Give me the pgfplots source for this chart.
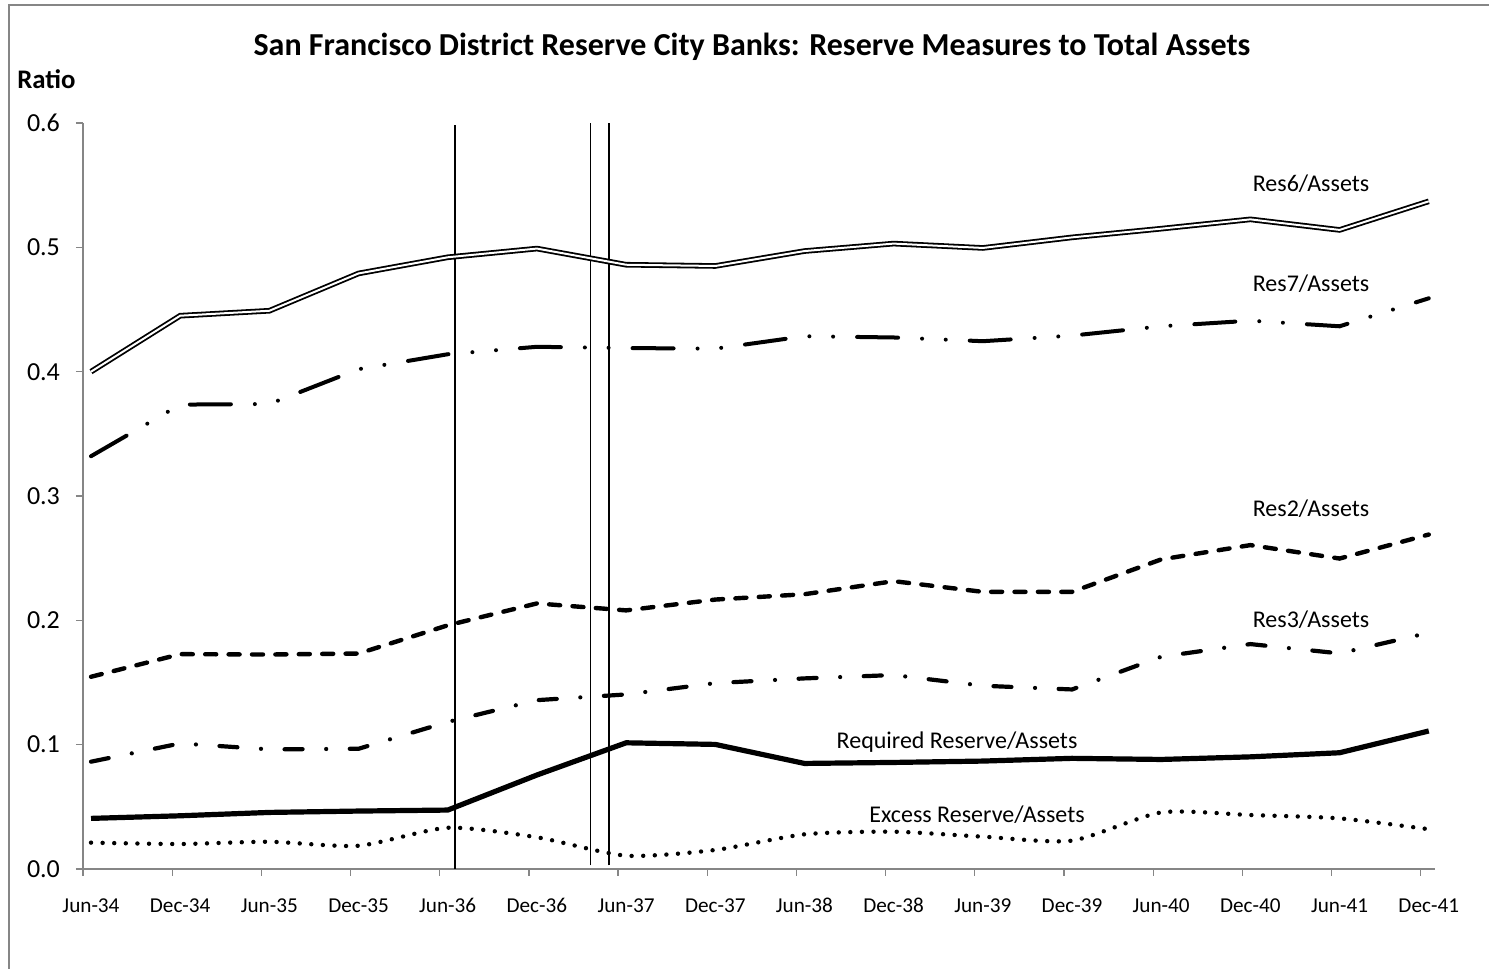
\documentclass[border=0pt]{standalone}
\usepackage{fontspec}
\setmainfont{Carlito}
\usepackage{pgfplots}
\usepackage{pgfplotstable}
\pgfplotsset{compat=1.18}
\definecolor{axisgray}{RGB}{134,134,134}

% columns: x position, Res6, Res7, Res2, Res3, Required, Excess (all / total assets)
\pgfplotstableread{
x     res6   res7   res2   res3   req    exc
0.09  0.400  0.332  0.1546 0.0863 0.0407 0.0212
1.09  0.445  0.3735 0.1728 0.1010 0.0428 0.0201
2.09  0.449  0.374  0.1725 0.0962 0.0455 0.0219
3.09  0.479  0.402  0.1733 0.0967 0.0466 0.0187
4.09  0.492  0.414  0.1960 0.1183 0.0474 0.0332
5.09  0.499  0.420  0.2136 0.1358 0.0756 0.0255
6.09  0.486  0.419  0.2080 0.1404 0.1015 0.0107
7.09  0.485  0.4185 0.2167 0.1495 0.1002 0.0153
8.09  0.497  0.4285 0.2210 0.1533 0.0849 0.0279
9.09  0.503  0.4275 0.2315 0.1560 0.0857 0.0300
10.09 0.4995 0.4245 0.2229 0.1474 0.0868 0.0260
11.09 0.508  0.429  0.2229 0.1444 0.0890 0.0228
12.09 0.515  0.4365 0.2490 0.1707 0.0881 0.0455
13.09 0.5225 0.441  0.2605 0.1809 0.0902 0.0434
14.09 0.514  0.4365 0.2497 0.1734 0.0935 0.0407
15.09 0.537  0.459  0.2690 0.1900 0.1110 0.0320
}\ratios

\begin{document}
\begin{tikzpicture}
\begin{axis}[
    at={(0,0)}, anchor=south west,
    scale only axis,
    width=676pt, height=373pt,
    xmin=0, xmax=15.16,
    ymin=0, ymax=0.6,
    axis x line*=bottom,
    axis y line*=left,
    axis line style={draw=axisgray, line width=0.6pt},
    tick style={draw=axisgray, line width=0.6pt},
    tick align=outside,
    major tick length=3.5pt,
    xtick={0,1,...,15},
    xticklabels={Jun-34,Dec-34,Jun-35,Dec-35,Jun-36,Dec-36,Jun-37,Dec-37,Jun-38,Dec-38,Jun-39,Dec-39,Jun-40,Dec-40,Jun-41,Dec-41},
    xticklabel style={anchor=base, xshift=4pt, yshift=-18.5pt, font=\fontsize{10.6}{12}\selectfont},
    ytick={0,0.1,0.2,0.3,0.4,0.5,0.6},
    yticklabel style={font=\fontsize{13}{15}\selectfont, xshift=-4.5pt,
        /pgf/number format/fixed, /pgf/number format/fixed zerofill,
        /pgf/number format/precision=1},
    /pgf/number format/assume math mode=true,
]
% reserve requirement change dates
\addplot[black, line width=0.75pt] coordinates {(4.17,0) (4.17,0.598)};
\addplot[black, line width=0.75pt] coordinates {(5.69,0.003) (5.69,0.6)};
\addplot[black, line width=0.75pt] coordinates {(5.897,0.003) (5.897,0.6)};

\addplot[draw=black, double=white, line width=0.9pt, double distance=1pt] table[x=x, y=res6] {\ratios};
\addplot[black, line width=2pt, line cap=round,
    dash pattern=on 20.5pt off 12pt on 0pt off 11.85pt on 0pt off 12pt] table[x=x, y=res7] {\ratios};
\addplot[black, line width=2.2pt, line cap=round,
    dash pattern=on 5.5pt off 6.2pt] table[x=x, y=res2] {\ratios};
\addplot[black, line width=2.1pt, line cap=round,
    dash pattern=on 9pt off 11.8pt on 0pt off 11.8pt] table[x=x, y=res3] {\ratios};
\addplot[black, line width=2.6pt] table[x=x, y=req] {\ratios};
\addplot[black, line width=2.2pt, line cap=round, smooth, tension=0.4,
    dash pattern=on 0pt off 5.8pt] table[x=x, y=exc] {\ratios};
\end{axis}

\begin{scope}[every node/.style={inner sep=0pt}]
\node[anchor=base, font=\fontsize{16}{18}\selectfont\bfseries] at (334.5pt,406.5pt)
    {San Francisco District Reserve City Banks: Reserve Measures to Total Assets};
\node[anchor=base west, font=\fontsize{13.4}{15}\selectfont\bfseries] at (-33pt,390pt) {Ratio};
\node[anchor=base, font=\fontsize{12}{14}\selectfont] at (614pt,338.5pt) {Res6/Assets};
\node[anchor=base, font=\fontsize{12}{14}\selectfont] at (614pt,288.7pt) {Res7/Assets};
\node[anchor=base, font=\fontsize{12}{14}\selectfont] at (614pt,176.2pt) {Res2/Assets};
\node[anchor=base, font=\fontsize{12}{14}\selectfont] at (614pt,120.8pt) {Res3/Assets};
\node[anchor=base, font=\fontsize{12}{14}\selectfont] at (437pt,60.3pt) {Required Reserve/Assets};
\node[anchor=base, font=\fontsize{12}{14}\selectfont] at (447pt,23.3pt) {Excess Reserve/Assets};
\end{scope}

\draw[axisgray, line width=0.6pt] (-37pt,-60pt) -- (-37pt,432pt) -- (710pt,432pt);

\pgfresetboundingbox
\path[use as bounding box] (-41.5pt,-50pt) rectangle (703pt,434.5pt);
\end{tikzpicture}
\end{document}
